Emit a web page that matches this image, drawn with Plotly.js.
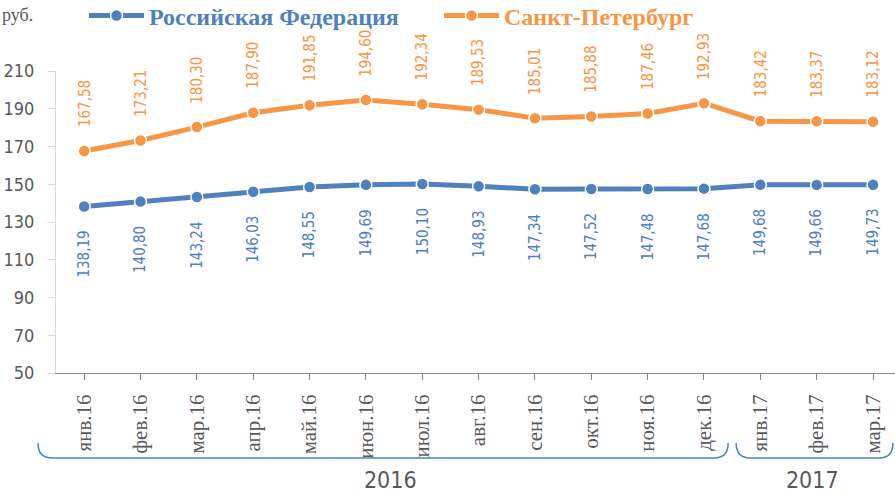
<!DOCTYPE html>
<html>
<head>
<meta charset="utf-8">
<script src="https://cdn.plot.ly/plotly-3.0.1.min.js"></script>
<style>html,body{margin:0;padding:0;background:#fff;}#chart{width:895px;height:499px;}
#chart text{font-stretch:condensed;}</style>
</head>
<body>
<div id="chart"></div>
<script>
const categories = ['янв.16','фев.16','мар.16','апр.16','май.16','июн.16','июл.16','авг.16','сен.16','окт.16','ноя.16','дек.16','янв.17','фев.17','мар.17'];
const rfValues = [138.19,140.80,143.24,146.03,148.55,149.69,150.10,148.93,147.34,147.52,147.48,147.68,149.68,149.66,149.73];
const spbValues = [167.58,173.21,180.30,187.90,191.85,194.60,192.34,189.53,185.01,185.88,187.46,192.93,183.42,183.37,183.12];
const rfName = 'Российская Федерация';
const spbName = 'Санкт-Петербург';
const yearGroups = [{label:'2016', from:0, to:11}, {label:'2017', from:12, to:14}];
const yTicks = [50,70,90,110,130,150,170,190,210];

const BLUE = '#4F81BD', ORANGE = '#F79646', GREY = '#595959';
const NARROW = '"DejaVu Sans", sans-serif';
const SERIF = '"Liberation Serif", "Times New Roman", serif';

const W = 895, H = 499, L = 56, R = 0, T = 71, B = 126;
const pw = W - L - R, ph = H - T - B;
const xMin = -0.5, xMax = 14.39;
const xIdx = categories.map((c, i) => i);
const step = pw / (xMax - xMin);
const px2paperX = p => (p - L) / pw;
const py2paperY = p => (H - B - p) / ph;
const idx2px = i => L + (i - xMin) * step;

const fmt = v => v.toFixed(2).replace('.', ',');

const traces = [
  {x: xIdx, y: rfValues, name: '<b>' + rfName + '</b>', type: 'scatter', mode: 'lines+markers',
   line: {color: BLUE, width: 5}, legend: 'legend',
   marker: {color: BLUE, size: 12, line: {color: '#fff', width: 1.5}}},
  {x: xIdx, y: spbValues, name: '<b>' + spbName + '</b>', type: 'scatter', mode: 'lines+markers',
   line: {color: ORANGE, width: 5}, legend: 'legend2',
   marker: {color: ORANGE, size: 12, line: {color: '#fff', width: 1.5}}}
];

const annotations = [];
rfValues.forEach((v, i) => annotations.push({x: i, y: v, xref: 'x', yref: 'y', text: fmt(v), showarrow: false,
  textangle: -90, yanchor: 'top', yshift: -19, font: {family: NARROW, size: 15, color: BLUE}}));
spbValues.forEach((v, i) => annotations.push({x: i, y: v, xref: 'x', yref: 'y', text: fmt(v), showarrow: false,
  textangle: -90, yanchor: 'bottom', yshift: 19, font: {family: NARROW, size: 15, color: ORANGE}}));
annotations.push({xref: 'paper', yref: 'paper', x: px2paperX(0), y: py2paperY(15), xanchor: 'left', yanchor: 'middle',
  text: 'руб.', showarrow: false, font: {family: SERIF, size: 18, color: GREY}});

const shapes = [];
const yTopPx = 443, yBotPx = 458, r = 14;
yearGroups.forEach((g, k) => {
  let x0 = idx2px(g.from - 0.5) + (k === 0 ? -18 : 4);
  let x1 = idx2px(g.to + 0.5) - 4;
  if (x1 > 893) x1 = 893;
  const P = (x, y) => px2paperX(x).toFixed(5) + ',' + py2paperY(y).toFixed(5);
  const path = 'M' + P(x0, yTopPx) + ' Q' + P(x0, yBotPx) + ' ' + P(x0 + r, yBotPx) +
    ' L' + P(x1 - r, yBotPx) + ' Q' + P(x1, yBotPx) + ' ' + P(x1, yTopPx);
  shapes.push({type: 'path', xref: 'paper', yref: 'paper', path: path, line: {color: BLUE, width: 1.5}});
  const cx = idx2px((g.from + g.to) / 2) - 4;
  annotations.push({xref: 'paper', yref: 'paper', x: px2paperX(cx), y: py2paperY(480), xanchor: 'center', yanchor: 'middle',
    text: g.label, showarrow: false, font: {family: NARROW, size: 23, color: GREY}});
});

const legendBase = {orientation: 'h', yanchor: 'middle', xanchor: 'left', itemwidth: 55,
  bgcolor: 'rgba(0,0,0,0)', y: py2paperY(16)};

const layout = {
  width: W, height: H,
  margin: {l: L, r: R, t: T, b: B, autoexpand: false},
  paper_bgcolor: '#fff', plot_bgcolor: '#fff',
  showlegend: true,
  legend: Object.assign({}, legendBase, {x: px2paperX(84), font: {family: SERIF, size: 24, color: BLUE}}),
  legend2: Object.assign({}, legendBase, {x: px2paperX(439), font: {family: SERIF, size: 24, color: ORANGE}}),
  xaxis: {range: [xMin, xMax], tickmode: 'array', tickvals: xIdx, ticktext: categories,
    tickangle: -90, tickson: 'boundaries', ticks: 'outside', ticklen: 6, tickcolor: '#868686',
    ticklabelstandoff: 6,
    showline: true, linecolor: '#868686', linewidth: 1, showgrid: false, zeroline: false,
    tickfont: {family: SERIF, size: 21, color: GREY}},
  yaxis: {range: [50, 210], tickmode: 'array', tickvals: yTicks, ticks: 'outside', ticklen: 7, tickcolor: '#d9d9d9',
    ticklabelstandoff: 10,
    showline: true, linecolor: '#d9d9d9', linewidth: 1, showgrid: false, zeroline: false,
    tickfont: {family: NARROW, size: 18, color: GREY}},
  annotations: annotations,
  shapes: shapes
};

Plotly.newPlot('chart', traces, layout, {displayModeBar: false, staticPlot: true});
</script>
</body>
</html>
